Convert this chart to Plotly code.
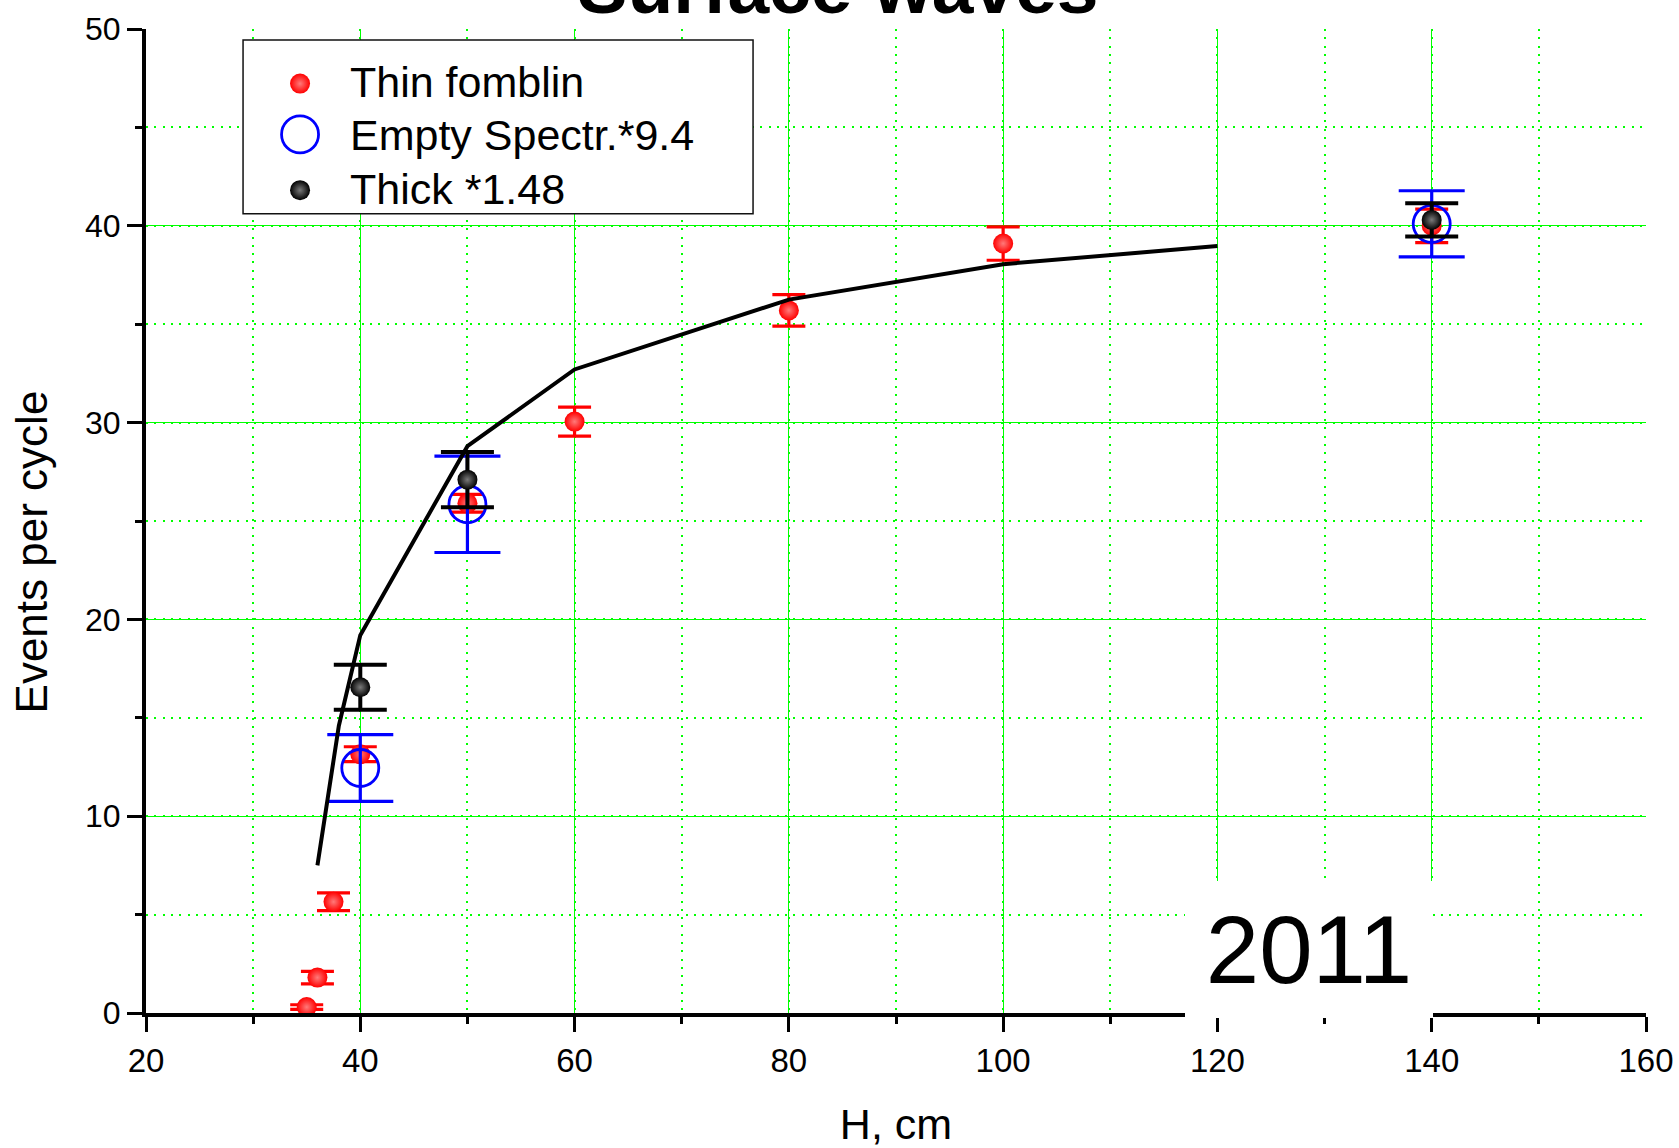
import plotly.graph_objects as go

# ---- data -------------------------------------------------------------
# Thin fomblin
thin_h = [35, 36, 37.5, 40, 50, 60, 80, 100, 140]
thin_ev = [0.3, 1.8, 5.65, 13.15, 25.9, 30.05, 35.7, 39.1, 40.0]
thin_err = [0.12, 0.32, 0.45, 0.38, 0.45, 0.74, 0.8, 0.85, 0.85]

# Empty spectrometer, scaled by 9.4
empty_h = [40, 50, 140]
empty_ev = [12.45, 25.85, 40.1]
empty_err = [1.7, 2.45, 1.68]

# Thick fomblin, scaled by 1.48
thick_h = [40, 50, 140]
thick_ev = [16.55, 27.1, 40.3]
thick_err = [1.14, 1.4, 0.84]

# calculated curve
calc_h = [36, 38, 40, 50, 60, 80, 100, 120]
calc_ev = [7.5, 14.6, 19.2, 28.8, 32.7, 36.25, 38.05, 38.97]

series_names = ["Thin fomblin", "Empty Spectr.*9.4", "Thick *1.48"]
x_ticks = [20, 40, 60, 80, 100, 120, 140, 160]
y_ticks = [0, 10, 20, 30, 40, 50]

X_RANGE = [20, 160]
Y_RANGE = [0, 50]

FONT = "Liberation Sans, Arial, Helvetica, sans-serif"
GREEN = "#00ff00"

RED_BALL = dict(symbol="circle", size=20, color="#ff0000",
                gradient=dict(type="radial", color="#ff7a7a"))
BLUE_RING = dict(symbol="circle-open", size=37, color="#0000ff",
                 line=dict(width=2.8, color="#0000ff"))
BLACK_BALL = dict(symbol="circle", size=20, color="#000000",
                  gradient=dict(type="radial", color="#7a7a7a"))

fig = go.Figure()

fig.add_trace(go.Scatter(
    x=thin_h, y=thin_ev, mode="markers", name=series_names[0],
    marker=RED_BALL,
    error_y=dict(type="data", array=thin_err, color="#ff0000",
                 thickness=3.2, width=16.5),
    showlegend=False,
))
fig.add_trace(go.Scatter(
    x=empty_h, y=empty_ev, mode="markers", name=series_names[1],
    marker=BLUE_RING,
    error_y=dict(type="data", array=empty_err, color="#0000ff",
                 thickness=3.2, width=33),
    showlegend=False,
))
fig.add_trace(go.Scatter(
    x=thick_h, y=thick_ev, mode="markers", name=series_names[2],
    marker=BLACK_BALL,
    error_y=dict(type="data", array=thick_err, color="#000000",
                 thickness=4, width=26.5),
    showlegend=False,
))
fig.add_trace(go.Scatter(
    x=calc_h, y=calc_ev, mode="lines", name="calc",
    line=dict(color="#000000", width=4),
    showlegend=False,
))

# ---- hand-drawn legend box --------------------------------------------
box = dict(x0=0.0647, x1=0.4047, y0=0.8122, y1=0.9888)
key_x = 0.1027          # symbol column (fraction of plot width)
text_x = 0.1347         # text column
row_y = [0.9445, 0.8929, 0.8362]
text_y = [0.9459, 0.8927, 0.8375]


def dom_to_x(f):
    return X_RANGE[0] + f * (X_RANGE[1] - X_RANGE[0])


def dom_to_y(f):
    return Y_RANGE[0] + f * (Y_RANGE[1] - Y_RANGE[0])


# white legend panel: above the grid, below the markers
fig.add_shape(type="rect", xref="x", yref="y",
              x0=dom_to_x(box["x0"]), x1=dom_to_x(box["x1"]),
              y0=dom_to_y(box["y0"]), y1=dom_to_y(box["y1"]),
              fillcolor="white", line=dict(color="#111111", width=1.5),
              layer="between")

for ry, style in zip(row_y, [RED_BALL, BLUE_RING, BLACK_BALL]):
    fig.add_trace(go.Scatter(
        x=[dom_to_x(key_x)], y=[dom_to_y(ry)], mode="markers",
        marker=style, showlegend=False, hoverinfo="skip", cliponaxis=False,
    ))
for ty, label in zip(text_y, series_names):
    fig.add_annotation(x=text_x, y=ty, xref="paper", yref="paper",
                       text=label, showarrow=False, xanchor="left",
                       yanchor="middle",
                       font=dict(family=FONT, size=43, color="black"))

# y-axis title, placed a little below the plot centre
fig.add_annotation(x=-0.0757, y=0.4685, xref="paper", yref="paper",
                   text="Events per cycle", textangle=-90, showarrow=False,
                   xanchor="center", yanchor="middle",
                   font=dict(family=FONT, size=44, color="black"))

# year stamp on a white patch
fig.add_annotation(x=0.7753, y=0.0645, xref="paper", yref="paper",
                   text="2011", showarrow=False, xanchor="center",
                   yanchor="middle", width=248, height=137,
                   bgcolor="white", borderpad=0, borderwidth=0,
                   font=dict(family=FONT, size=96, color="black"))

axis_common = dict(
    showline=True, linewidth=4, linecolor="black", mirror=False,
    ticks="outside", ticklen=15, tickwidth=3, tickcolor="black",
    showgrid=True, gridcolor=GREEN, gridwidth=1.3, zeroline=False,
)

fig.update_xaxes(
    range=X_RANGE, tickmode="array", tickvals=x_ticks,
    tickfont=dict(family=FONT, size=33, color="black"),
    title=dict(text="H, cm", font=dict(family=FONT, size=43, color="black"),
               standoff=36),
    minor=dict(dtick=10, ticks="outside", ticklen=7, tickwidth=3,
               tickcolor="black", showgrid=True, gridcolor=GREEN,
               gridwidth=1.6, griddash="2px,6.3px"),
    **axis_common,
)
fig.update_yaxes(
    range=Y_RANGE, tickmode="array", tickvals=y_ticks,
    tickfont=dict(family=FONT, size=32, color="black"),
    minor=dict(dtick=5, ticks="outside", ticklen=7, tickwidth=3,
               tickcolor="black", showgrid=True, gridcolor=GREEN,
               gridwidth=1.6, griddash="2px,6.3px"),
    **axis_common,
)

fig.update_layout(
    width=1679, height=1148,
    margin=dict(l=146, r=33, t=29, b=135, autoexpand=False),
    paper_bgcolor="white", plot_bgcolor="white",
    title=dict(text="<b>Surface waves</b>", x=0.4991, xanchor="center",
               y=1 - 13 / 1148, yanchor="bottom", yref="container",
               font=dict(family=FONT, size=75, color="black")),
    showlegend=False,
)

fig.write_html("out.html")
